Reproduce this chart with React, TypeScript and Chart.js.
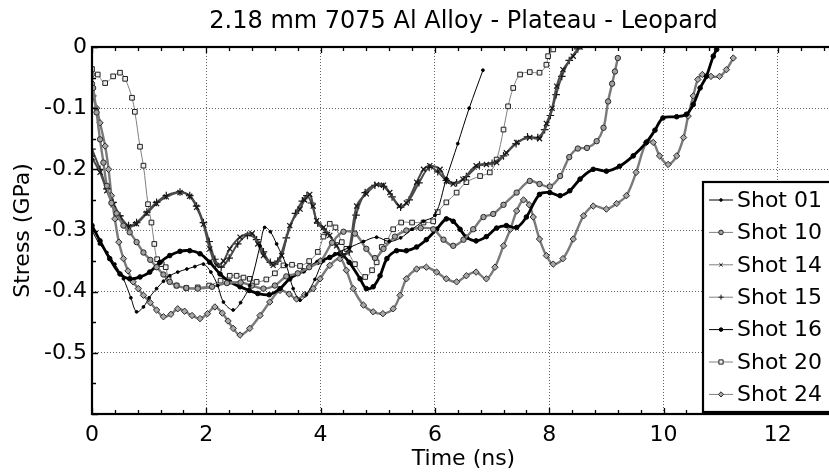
import React, { useEffect, useRef } from 'react';
import { Chart, registerables } from 'chart.js';
import { drawPoint } from 'chart.js/helpers';

Chart.register(...registerables);

const titleText = '2.18 mm 7075 Al Alloy - Plateau - Leopard';
const xAxisTitle = 'Time (ns)';
const yAxisTitle = 'Stress (GPa)';
const xTickValues = [0, 2, 4, 6, 8, 10, 12];
const yTickValues = [0, -0.1, -0.2, -0.3, -0.4, -0.5, -0.6];
const seriesLabels = ['Shot 01', 'Shot 10', 'Shot 14', 'Shot 15', 'Shot 16', 'Shot 20', 'Shot 24'];

const x01 = [0, 0.13, 0.26, 0.4, 0.55, 0.68, 0.78, 0.9, 1.0, 1.13, 1.25, 1.36, 1.5, 1.66, 1.8, 1.95, 2.08, 2.2, 2.3, 2.47, 2.6, 2.76, 2.94, 3.02, 3.12, 3.23, 3.4, 3.52, 3.64, 3.75, 3.9, 4.05, 4.25, 4.5, 4.75, 4.98, 5.2, 5.4, 5.6, 5.8, 6.0, 6.2, 6.4, 6.6, 6.84];
const y01 = [-0.3, -0.322, -0.336, -0.355, -0.379, -0.41, -0.433, -0.425, -0.41, -0.395, -0.383, -0.374, -0.368, -0.363, -0.359, -0.355, -0.368, -0.39, -0.417, -0.43, -0.418, -0.39, -0.325, -0.295, -0.302, -0.322, -0.357, -0.395, -0.414, -0.405, -0.38, -0.35, -0.338, -0.328, -0.318, -0.311, -0.318, -0.312, -0.298, -0.285, -0.275, -0.215, -0.158, -0.1, -0.038];

const x10 = [0, 0.02, 0.08, 0.14, 0.2, 0.26, 0.34, 0.43, 0.55, 0.66, 0.78, 0.9, 1.02, 1.13, 1.25, 1.36, 1.48, 1.65, 1.85, 2.1, 2.36, 2.6, 2.8, 3.0, 3.2, 3.4, 3.6, 3.8, 4.0, 4.2, 4.4, 4.6, 4.8, 4.95, 5.1, 5.3, 5.5, 5.75, 5.97, 6.15, 6.32, 6.5, 6.67, 6.85, 7.02, 7.2, 7.43, 7.66, 7.83, 8.01, 8.19, 8.35, 8.5, 8.66, 8.83, 8.95, 9.03, 9.1, 9.15, 9.2];
const y10 = [-0.06, -0.067, -0.107, -0.151, -0.189, -0.227, -0.255, -0.272, -0.292, -0.303, -0.319, -0.336, -0.348, -0.36, -0.372, -0.384, -0.39, -0.394, -0.395, -0.392, -0.386, -0.385, -0.39, -0.395, -0.39, -0.375, -0.37, -0.36, -0.35, -0.32, -0.302, -0.305, -0.33, -0.345, -0.33, -0.31, -0.3, -0.296, -0.298, -0.315, -0.325, -0.315, -0.298, -0.278, -0.273, -0.258, -0.238, -0.219, -0.224, -0.228, -0.211, -0.18, -0.166, -0.165, -0.154, -0.132, -0.089, -0.06, -0.04, -0.018];

const x14 = [0, 0.14, 0.26, 0.37, 0.49, 0.64, 0.78, 0.96, 1.13, 1.3, 1.54, 1.71, 1.83, 1.95, 2.06, 2.18, 2.3, 2.41, 2.59, 2.8, 2.9, 3.0, 3.17, 3.32, 3.46, 3.64, 3.72, 3.81, 3.87, 3.93, 4.05, 4.16, 4.28, 4.4, 4.5, 4.63, 4.8, 4.98, 5.1, 5.21, 5.38, 5.5, 5.68, 5.8, 5.91, 6.09, 6.2, 6.32, 6.49, 6.72, 6.9, 7.08, 7.25, 7.43, 7.66, 7.83, 7.95, 8.05, 8.13, 8.24, 8.42, 8.54];
const y14 = [-0.181, -0.205, -0.235, -0.258, -0.279, -0.294, -0.289, -0.272, -0.256, -0.245, -0.238, -0.244, -0.262, -0.29, -0.33, -0.357, -0.35, -0.33, -0.311, -0.305, -0.322, -0.341, -0.357, -0.341, -0.292, -0.265, -0.25, -0.241, -0.26, -0.284, -0.295, -0.308, -0.325, -0.341, -0.33, -0.26, -0.24, -0.225, -0.226, -0.238, -0.26, -0.255, -0.221, -0.2, -0.194, -0.2, -0.219, -0.224, -0.216, -0.194, -0.192, -0.189, -0.173, -0.156, -0.148, -0.15, -0.125, -0.1, -0.064, -0.037, -0.015, 0];

const x15 = [0, 0.14, 0.26, 0.37, 0.49, 0.64, 0.78, 0.96, 1.13, 1.3, 1.54, 1.71, 1.83, 1.95, 2.05, 2.15, 2.26, 2.4, 2.55, 2.72, 2.88, 3.0, 3.12, 3.25, 3.4, 3.56, 3.68, 3.76, 3.84, 3.95, 4.1, 4.25, 4.38, 4.5, 4.62, 4.78, 4.95, 5.1, 5.25, 5.4, 5.55, 5.72, 5.9, 6.05, 6.2, 6.38, 6.55, 6.78, 7.0, 7.2, 7.42, 7.62, 7.8, 7.92, 8.02, 8.12, 8.22, 8.35, 8.5];
const y15 = [-0.167, -0.2, -0.232, -0.254, -0.276, -0.292, -0.287, -0.27, -0.254, -0.243, -0.237, -0.243, -0.26, -0.287, -0.318, -0.347, -0.36, -0.345, -0.322, -0.308, -0.315, -0.335, -0.352, -0.35, -0.312, -0.272, -0.252, -0.243, -0.255, -0.288, -0.303, -0.32, -0.338, -0.335, -0.275, -0.238, -0.226, -0.228, -0.245, -0.262, -0.25, -0.222, -0.197, -0.204, -0.218, -0.222, -0.212, -0.193, -0.19, -0.178, -0.158, -0.147, -0.148, -0.135, -0.112, -0.078, -0.048, -0.022, -0.003];

const x16 = [0, 0.14, 0.31, 0.49, 0.66, 0.84, 1.01, 1.19, 1.36, 1.54, 1.71, 1.89, 2.06, 2.24, 2.41, 2.59, 2.75, 2.9, 3.1, 3.29, 3.46, 3.7, 3.95, 4.16, 4.34, 4.5, 4.69, 4.8, 4.92, 5.04, 5.16, 5.33, 5.5, 5.68, 5.85, 6.03, 6.2, 6.32, 6.44, 6.55, 6.72, 6.9, 7.08, 7.25, 7.43, 7.6, 7.83, 8.01, 8.19, 8.36, 8.54, 8.77, 9.0, 9.23, 9.47, 9.7, 9.85, 9.99, 10.23, 10.4, 10.52, 10.64, 10.75, 10.87, 10.93];
const y16 = [-0.292, -0.317, -0.346, -0.371, -0.379, -0.376, -0.368, -0.352, -0.341, -0.334, -0.333, -0.338, -0.352, -0.371, -0.384, -0.392, -0.398, -0.403, -0.405, -0.395, -0.379, -0.366, -0.352, -0.344, -0.338, -0.352, -0.379, -0.395, -0.392, -0.374, -0.346, -0.333, -0.333, -0.327, -0.315, -0.298, -0.281, -0.285, -0.298, -0.311, -0.317, -0.31, -0.296, -0.292, -0.295, -0.278, -0.241, -0.238, -0.243, -0.235, -0.216, -0.2, -0.203, -0.195, -0.178, -0.156, -0.136, -0.116, -0.114, -0.11, -0.094, -0.067, -0.048, -0.015, -0.004];

const x20 = [0, 0.1, 0.23, 0.37, 0.49, 0.58, 0.7, 0.75, 0.84, 0.9, 0.98, 1.04, 1.09, 1.14, 1.22, 1.29, 1.34, 1.48, 1.65, 1.85, 2.05, 2.25, 2.41, 2.53, 2.65, 2.76, 2.88, 3.05, 3.2, 3.35, 3.5, 3.64, 3.8, 3.95, 4.05, 4.16, 4.26, 4.37, 4.45, 4.6, 4.78, 4.9, 4.98, 5.07, 5.16, 5.27, 5.41, 5.6, 5.8, 5.97, 6.05, 6.2, 6.38, 6.55, 6.79, 6.96, 7.08, 7.2, 7.28, 7.37, 7.49, 7.66, 7.83, 7.95, 7.98, 8.07];
const y20 = [-0.036, -0.045, -0.059, -0.048, -0.042, -0.052, -0.083, -0.106, -0.163, -0.194, -0.257, -0.287, -0.322, -0.347, -0.355, -0.36, -0.379, -0.39, -0.394, -0.393, -0.39, -0.382, -0.374, -0.374, -0.377, -0.379, -0.384, -0.38, -0.37, -0.357, -0.356, -0.358, -0.35, -0.335, -0.31, -0.289, -0.295, -0.319, -0.33, -0.355, -0.376, -0.365, -0.352, -0.327, -0.317, -0.298, -0.287, -0.287, -0.287, -0.285, -0.27, -0.254, -0.238, -0.221, -0.211, -0.205, -0.184, -0.135, -0.097, -0.067, -0.045, -0.041, -0.042, -0.029, -0.015, -0.004];

const x24 = [0, 0.02, 0.08, 0.14, 0.23, 0.29, 0.34, 0.4, 0.47, 0.55, 0.63, 0.72, 0.81, 0.9, 1.02, 1.13, 1.25, 1.38, 1.5, 1.62, 1.75, 1.89, 2.02, 2.15, 2.28, 2.38, 2.47, 2.59, 2.76, 2.94, 3.11, 3.29, 3.45, 3.58, 3.72, 3.87, 3.99, 4.16, 4.34, 4.45, 4.57, 4.75, 4.92, 5.09, 5.27, 5.39, 5.5, 5.68, 5.85, 6.03, 6.2, 6.38, 6.55, 6.72, 6.9, 7.05, 7.2, 7.32, 7.43, 7.55, 7.65, 7.72, 7.83, 7.95, 8.07, 8.24, 8.42, 8.6, 8.77, 9.0, 9.18, 9.35, 9.52, 9.7, 9.82, 9.93, 10.08, 10.23, 10.35, 10.43, 10.52, 10.6, 10.68, 10.83, 10.98, 11.1, 11.22];
const y24 = [-0.045, -0.08, -0.1, -0.124, -0.162, -0.2, -0.243, -0.281, -0.319, -0.346, -0.366, -0.384, -0.395, -0.406, -0.418, -0.43, -0.441, -0.437, -0.428, -0.432, -0.439, -0.444, -0.436, -0.425, -0.435, -0.448, -0.46, -0.471, -0.46, -0.439, -0.417, -0.398, -0.404, -0.412, -0.405, -0.395, -0.379, -0.357, -0.346, -0.365, -0.395, -0.422, -0.433, -0.436, -0.428, -0.406, -0.379, -0.363, -0.36, -0.368, -0.379, -0.384, -0.374, -0.368, -0.379, -0.36, -0.325, -0.298, -0.268, -0.25, -0.258, -0.278, -0.314, -0.341, -0.355, -0.346, -0.314, -0.276, -0.26, -0.265, -0.256, -0.243, -0.205, -0.156, -0.156, -0.178, -0.192, -0.178, -0.148, -0.113, -0.08, -0.053, -0.045, -0.048, -0.048, -0.037, -0.018];

const seriesX = [x01, x10, x14, x15, x16, x20, x24];
const seriesY = [y01, y10, y14, y15, y16, y20, y24];

const styles = [
  { line: '#000000', width: 1, point: 'circle', radius: 1.4, pBorder: '#000000', pFill: '#000000', pWidth: 1, lRadius: 1.3, lLine: '#000000' },
  { line: '#7a7a7a', width: 2.4, point: 'circle', radius: 2.7, pBorder: '#2a2a2a', pFill: '#a0a0a0', pWidth: 1, lRadius: 2.3, lLine: '#808080' },
  { line: '#4a4a4a', width: 2, point: 'crossRot', radius: 3.6, pBorder: '#151515', pFill: '#151515', pWidth: 1.2, lRadius: 2.3, lLine: '#808080' },
  { line: '#4a4a4a', width: 2, point: 'cross', radius: 3.8, pBorder: '#151515', pFill: '#151515', pWidth: 1.2, lRadius: 2.5, lLine: '#808080' },
  { line: '#000000', width: 2.8, point: 'circle', radius: 2.3, pBorder: '#000000', pFill: '#000000', pWidth: 1, lRadius: 1.8, lLine: '#000000' },
  { line: '#808080', width: 1, point: 'rect', radius: 3.3, pBorder: '#202020', pFill: '#eeeeee', pWidth: 1, lRadius: 3, lLine: '#808080' },
  { line: '#7a7a7a', width: 2.4, point: 'rectRot', radius: 3.2, pBorder: '#2a2a2a', pFill: '#a8a8a8', pWidth: 1, lRadius: 2.6, lLine: '#808080' },
];

const FONT = 'DejaVu Sans';

const framePlugin = {
  id: 'frame',
  afterDraw(chart: any) {
    const { ctx, chartArea: a, scales } = chart;
    const xs = scales.x;
    const ys = scales.y;
    ctx.save();
    ctx.strokeStyle = '#000';
    ctx.lineWidth = 1.3;
    ctx.beginPath();
    for (let i = 0; i <= 33; i++) {
      const v = i * 0.4;
      if (v > xs.max + 1e-9) break;
      const px = Math.round(xs.getPixelForValue(v)) + 0.5;
      const major = Math.abs(v / 2 - Math.round(v / 2)) < 1e-6;
      const len = major ? 6 : 4;
      ctx.moveTo(px, a.bottom);
      ctx.lineTo(px, a.bottom - len);
      ctx.moveTo(px, a.top);
      ctx.lineTo(px, a.top + len);
    }
    for (let i = 0; i <= 12; i++) {
      const v = -i * 0.05;
      const py = Math.round(ys.getPixelForValue(v)) + 0.5;
      const major = i % 2 === 0;
      const len = major ? 6 : 4;
      ctx.moveTo(a.left, py);
      ctx.lineTo(a.left + len, py);
      ctx.moveTo(a.right, py);
      ctx.lineTo(a.right - len, py);
    }
    ctx.stroke();
    ctx.lineWidth = 2.2;
    ctx.strokeRect(a.left, a.top, a.right - a.left, a.bottom - a.top);
    ctx.fillStyle = '#000';
    ctx.font = `24px "${FONT}"`;
    ctx.textAlign = 'center';
    ctx.textBaseline = 'alphabetic';
    ctx.fillText(titleText, (a.left + a.right) / 2, 28);
    const lx = 703;
    const ly = 182;
    ctx.fillStyle = '#fff';
    ctx.fillRect(lx, ly, 200, 230);
    ctx.lineWidth = 2.2;
    ctx.strokeStyle = '#000';
    ctx.strokeRect(lx, ly, 200, 230);
    chart.data.datasets.forEach((ds: any, i: number) => {
      const st = styles[i];
      const cy = 200 + i * 32.4;
      ctx.strokeStyle = st.lLine;
      ctx.lineWidth = 1;
      ctx.beginPath();
      ctx.moveTo(709, cy);
      ctx.lineTo(733, cy);
      ctx.stroke();
      ctx.fillStyle = st.pFill;
      ctx.strokeStyle = st.pBorder;
      ctx.lineWidth = 1;
      drawPoint(ctx, { pointStyle: st.point, radius: st.lRadius, rotation: 0, borderWidth: 1 } as any, 721, cy);
      ctx.fillStyle = '#000';
      ctx.font = `22px "${FONT}"`;
      ctx.textAlign = 'left';
      ctx.textBaseline = 'middle';
      ctx.fillText(ds.label, 737, cy + 1);
    });
    ctx.restore();
  },
};

export default function App() {
  const ref = useRef<HTMLCanvasElement | null>(null);
  useEffect(() => {
    if (!ref.current) return;
    const datasets = seriesLabels.map((label, i) => {
      const st = styles[i];
      return {
        label,
        data: seriesX[i].map((x, j) => ({ x, y: seriesY[i][j] })),
        borderColor: st.line,
        borderWidth: st.width,
        backgroundColor: st.pFill,
        pointStyle: st.point,
        pointRadius: st.radius,
        pointBorderColor: st.pBorder,
        pointBackgroundColor: st.pFill,
        pointBorderWidth: st.pWidth,
        tension: 0.35,
        fill: false,
      };
    });
    const chart = new Chart(ref.current, {
      type: 'line',
      data: { datasets },
      options: {
        animation: false,
        responsive: false,
        devicePixelRatio: 1,
        layout: { padding: { top: 47, right: 15, left: 0, bottom: 0 } },
        plugins: { legend: { display: false }, tooltip: { enabled: false }, title: { display: false } },
        scales: {
          x: {
            type: 'linear',
            min: 0,
            max: 13,
            afterBuildTicks: (s: any) => { s.ticks = xTickValues.map((v) => ({ value: v })); },
            afterFit: (s: any) => { s.height = 59; },
            ticks: { color: '#000', font: { family: FONT, size: 22 }, padding: 8, maxRotation: 0, autoSkip: false,
              callback: (v: any) => String(v) },
            grid: { color: '#666666', lineWidth: 1, drawTicks: false },
            border: { display: false, dash: [1, 2] },
            title: { display: true, text: xAxisTitle, color: '#000', font: { family: FONT, size: 22 }, padding: { top: 0, bottom: 1 } },
          },
          y: {
            type: 'linear',
            min: -0.6,
            max: 0,
            afterBuildTicks: (s: any) => { s.ticks = yTickValues.map((v) => ({ value: v })); },
            afterFit: (s: any) => { s.width = 92; },
            ticks: { color: '#000', font: { family: FONT, size: 22 }, padding: 5, autoSkip: false,
              callback: (v: any) => (v <= -0.59 ? '' : v === 0 ? '0' : Number(v).toFixed(1)) },
            grid: { color: '#666666', lineWidth: 1, drawTicks: false },
            border: { display: false, dash: [1, 2] },
            title: { display: true, text: yAxisTitle, color: '#000', font: { family: FONT, size: 22 }, padding: { top: 10, bottom: 0 } },
          },
        },
      },
      plugins: [framePlugin],
    } as any);
    return () => chart.destroy();
  }, []);
  return (
    <div style={{ position: 'fixed', left: 0, top: 0, width: 829, height: 473, overflow: 'hidden', background: '#fff' }}>
      <canvas ref={ref} width={850} height={473} style={{ display: 'block', width: 850, height: 473 }} />
    </div>
  );
}
